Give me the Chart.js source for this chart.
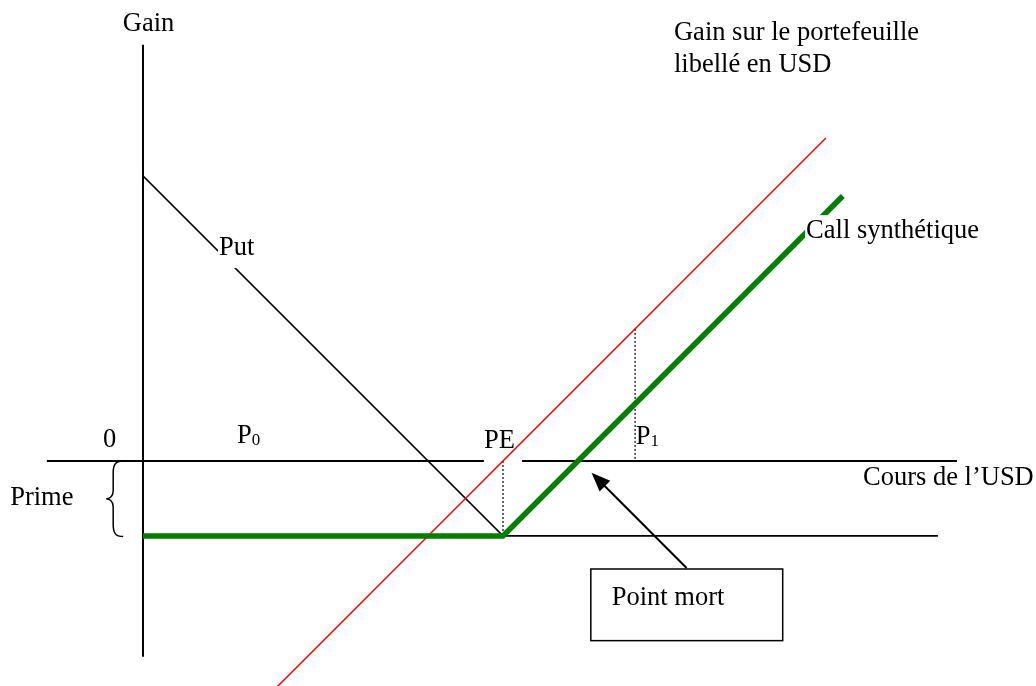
<!DOCTYPE html>
<html>
<head>
<meta charset="utf-8">
<script src="https://cdn.jsdelivr.net/npm/chart.js@4.4.1/dist/chart.umd.min.js"></script>
<style>
  html, body { margin: 0; padding: 0; background: #fff; }
  #wrap { position: relative; width: 1036px; height: 686px; }
</style>
</head>
<body>
<div id="wrap"><canvas id="c"></canvas></div>
<script>
// ---- Data (units: exchange rate on x, gain on y) ----
const strikePE = 10;          // PE (prix d'exercice)
const prime = 2.08;           // premium paid for the put
const priceP1 = 13.67;        // P1
const xAxisLine = [{x: -2.67, y: 0}, {x: 9.47, y: 0}, {x: NaN, y: NaN}, {x: 10.53, y: 0}, {x: 22.61, y: 0}];
const yAxisLine = [{x: 0, y: 11.56}, {x: 0, y: -5.44}];
const putLine = [{x: 0, y: 7.92}, {x: 10, y: -2.08}];
const portfolioLine = [{x: 3.72, y: -6.28}, {x: 18.97, y: 8.97}];
const syntheticCall = [{x: 0, y: -2.08}, {x: 10, y: -2.08}, {x: 19.44, y: 7.36}];
const primeLevelLine = [{x: 0, y: -2.08}, {x: 22.08, y: -2.08}];
const peDrop = [{x: 10, y: 0}, {x: 10, y: -2.08}];
const p1Drop = [{x: 13.67, y: 3.67}, {x: 13.67, y: 0}];
const arrowLine = [{x: 15.10, y: -2.97}, {x: 12.52, y: -0.39}];
const arrowTip = {x: 12.46, y: -0.325};

const labels = [
  {text: 'Gain', x: -0.56, y: 11.94},
  {text: 'Gain sur le portefeuille', x: 14.75, y: 11.69},
  {text: 'libellé en USD', x: 14.75, y: 10.81},
  {text: 'Put', x: 2.11, y: 5.72, bg: true},
  {text: 'Call synthétique', x: 18.42, y: 6.19, bg: true},
  {text: '0', x: -1.11, y: 0.39},
  {text: 'P', sub: '0', x: 2.61, y: 0.49},
  {text: 'PE', x: 9.47, y: 0.36},
  {text: 'P', sub: '1', x: 13.69, y: 0.46},
  {text: 'Cours de l\u2019USD', x: 20.0, y: -0.67},
  {text: 'Prime', x: -3.69, y: -1.22},
  {text: 'Point mort', x: 13.02, y: -4.0}
];
const noteBox = {x1: 12.44, y1: -3.0, x2: 17.77, y2: -4.99};
const brace = {x: -0.55, yTop: 0, yBottom: -2.1};

const FONT = "26.5px 'Liberation Serif', 'Times New Roman', serif";
const SUBFONT = "17px 'Liberation Serif', 'Times New Roman', serif";

const annotate = {
  id: 'annotate',
  afterDatasetsDraw(chart) {
    const ctx = chart.ctx, xs = chart.scales.x, ys = chart.scales.y;
    const px = v => xs.getPixelForValue(v), py = v => ys.getPixelForValue(v);
    ctx.save();
    // arrow head
    const t = {x: px(arrowTip.x), y: py(arrowTip.y)};
    const tail = {x: px(arrowLine[0].x), y: py(arrowLine[0].y)};
    const ang = Math.atan2(t.y - tail.y, t.x - tail.x);
    const L = 19, W = 7.5;
    ctx.fillStyle = '#000';
    ctx.beginPath();
    ctx.moveTo(t.x, t.y);
    ctx.lineTo(t.x - L * Math.cos(ang) + W * Math.sin(ang), t.y - L * Math.sin(ang) - W * Math.cos(ang));
    ctx.lineTo(t.x - L * Math.cos(ang) - W * Math.sin(ang), t.y - L * Math.sin(ang) + W * Math.cos(ang));
    ctx.closePath();
    ctx.fill();
    // note box
    ctx.fillStyle = '#fff';
    ctx.strokeStyle = '#000';
    ctx.lineWidth = 1.5;
    const bx = px(noteBox.x1), by = py(noteBox.y1), bw = px(noteBox.x2) - bx, bh = py(noteBox.y2) - by;
    ctx.fillRect(bx, by, bw, bh);
    ctx.strokeRect(bx, by, bw, bh);
    // brace
    const bxp = px(brace.x), yt = py(brace.yTop), yb = py(brace.yBottom), ym = (yt + yb) / 2;
    ctx.lineWidth = 1.5;
    ctx.beginPath();
    ctx.moveTo(bxp, yt);
    ctx.bezierCurveTo(bxp - 8, yt, bxp - 10, yt + 4, bxp - 10, yt + 12);
    ctx.lineTo(bxp - 10, ym - 8);
    ctx.bezierCurveTo(bxp - 10, ym - 2, bxp - 14, ym, bxp - 17, ym);
    ctx.bezierCurveTo(bxp - 14, ym, bxp - 10, ym + 2, bxp - 10, ym + 8);
    ctx.lineTo(bxp - 10, yb - 12);
    ctx.bezierCurveTo(bxp - 10, yb - 4, bxp - 8, yb, bxp, yb);
    ctx.stroke();
    // labels
    ctx.textBaseline = 'alphabetic';
    ctx.textAlign = 'left';
    labels.forEach(l => {
      const x = px(l.x), y = py(l.y);
      ctx.font = FONT;
      const w = ctx.measureText(l.text).width;
      if (l.bg) {
        ctx.fillStyle = '#fff';
        ctx.fillRect(x - 1, y - 23, w + 3, 36);
      }
      ctx.fillStyle = '#000';
      ctx.fillText(l.text, x, y);
      if (l.sub) {
        ctx.font = SUBFONT;
        ctx.fillText(l.sub, x + w, y + 2);
      }
    });
    ctx.restore();
  }
};

const line = (data, color, width, extra) => Object.assign({
  data, borderColor: color, borderWidth: width, showLine: true, pointRadius: 0,
  fill: false, tension: 0, spanGaps: false
}, extra || {});

new Chart(document.getElementById('c'), {
  type: 'scatter',
  data: {
    datasets: [
      line(arrowLine, '#000', 2),
      line(syntheticCall, '#008000', 5.5, {borderCapStyle: 'butt'}),
      line(portfolioLine, '#ff0000', 1.5),
      line(putLine, '#000', 1.5),
      line(primeLevelLine, '#000', 1.8),
      line(peDrop, '#000', 1.2, {borderDash: [2, 2]}),
      line(p1Drop, '#000', 1.2, {borderDash: [2, 2]}),
      line(xAxisLine, '#000', 2),
      line(yAxisLine, '#000', 2)
    ]
  },
  options: {
    responsive: true,
    maintainAspectRatio: false,
    animation: false,
    layout: {padding: 0},
    plugins: {legend: {display: false}, tooltip: {enabled: false}},
    scales: {
      x: {type: 'linear', display: false, min: -3.972, max: 24.806},
      y: {type: 'linear', display: false, min: -6.25, max: 12.806}
    }
  },
  plugins: [annotate]
});
</script>
</body>
</html>
